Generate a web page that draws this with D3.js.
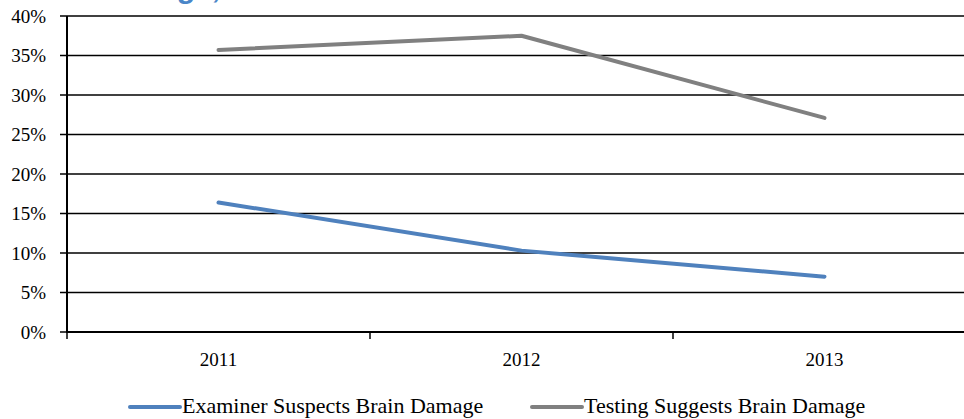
<!DOCTYPE html>
<html><head><meta charset="utf-8">
<script src="https://cdn.jsdelivr.net/npm/d3@7"></script>
<style>
body{margin:0;background:#fff;}
svg{display:block;}
</style></head>
<body><svg id="c" width="964" height="419"></svg>
<script>
const years = ["2011","2012","2013"];
const examiner = [16.4, 10.3, 7.0];
const testing = [35.7, 37.5, 27.1];
const yTicks = [0,5,10,15,20,25,30,35,40];
const seriesNames = ["Examiner Suspects Brain Damage","Testing Suggests Brain Damage"];
const seriesColors = ["#4f81bd","#808080"];

const svg = d3.select("#c");
const x = d3.scaleBand().domain(years).range([67, 976]);
const y = d3.scaleLinear().domain([0,40]).range([332, 16]);
const font = "'Liberation Serif','Times New Roman',serif";

// partial title at top (cut off in the reference)
svg.append("text").attr("x",222).attr("y",-2).attr("text-anchor","end")
  .attr("font-family","'Liberation Sans',Arial,sans-serif").attr("font-weight","bold").attr("font-style","italic")
  .attr("font-size",30).attr("fill","#4a86c8").text("Brain Damage,");

// gridlines
svg.append("g").selectAll("line").data(yTicks).join("line")
  .attr("x1",60).attr("x2",964).attr("y1",d=>y(d)).attr("y2",d=>y(d))
  .attr("stroke","#000").attr("stroke-width",1.6);

// y labels
svg.append("g").selectAll("text").data(yTicks).join("text")
  .attr("x",46).attr("y",d=>y(d)).attr("dy","0.35em").attr("text-anchor","end")
  .attr("font-family",font).attr("font-size",19).attr("fill","#000")
  .text(d=>d+"%");

// y axis line
svg.append("line").attr("x1",67).attr("x2",67).attr("y1",y(40)).attr("y2",y(0))
  .attr("stroke","#000").attr("stroke-width",2);
// x axis line
svg.append("line").attr("x1",66).attr("x2",964).attr("y1",y(0)).attr("y2",y(0))
  .attr("stroke","#000").attr("stroke-width",2);
// x ticks at band boundaries
const bounds = years.map(d=>x(d));
svg.append("g").selectAll("line").data(bounds).join("line")
  .attr("x1",d=>d).attr("x2",d=>d).attr("y1",y(0)).attr("y2",y(0)+7)
  .attr("stroke","#000").attr("stroke-width",1.5);
// x labels
svg.append("g").selectAll("text").data(years).join("text")
  .attr("x",d=>x(d)+x.bandwidth()/2).attr("y",366).attr("text-anchor","middle")
  .attr("font-family",font).attr("font-size",19).attr("fill","#000").text(d=>d);

// lines
const line = d3.line().x((d,i)=>x(years[i])+x.bandwidth()/2).y(d=>y(d));
[examiner, testing].forEach((s,i)=>{
  svg.append("path").attr("d",line(s)).attr("fill","none")
    .attr("stroke",seriesColors[i]).attr("stroke-width",4).attr("stroke-linecap","round").attr("stroke-linejoin","round");
});

// legend
const legX = [130, 532];
seriesNames.forEach((n,i)=>{
  const g = svg.append("g").attr("transform",`translate(${legX[i]},407)`);
  g.append("line").attr("x1",0).attr("x2",50).attr("y1",0).attr("y2",0)
    .attr("stroke",seriesColors[i]).attr("stroke-width",4).attr("stroke-linecap","round");
  g.append("text").attr("x",52).attr("y",6)
    .attr("font-family",font).attr("font-size",22).attr("fill","#000").text(n);
});
</script>
</body></html>
